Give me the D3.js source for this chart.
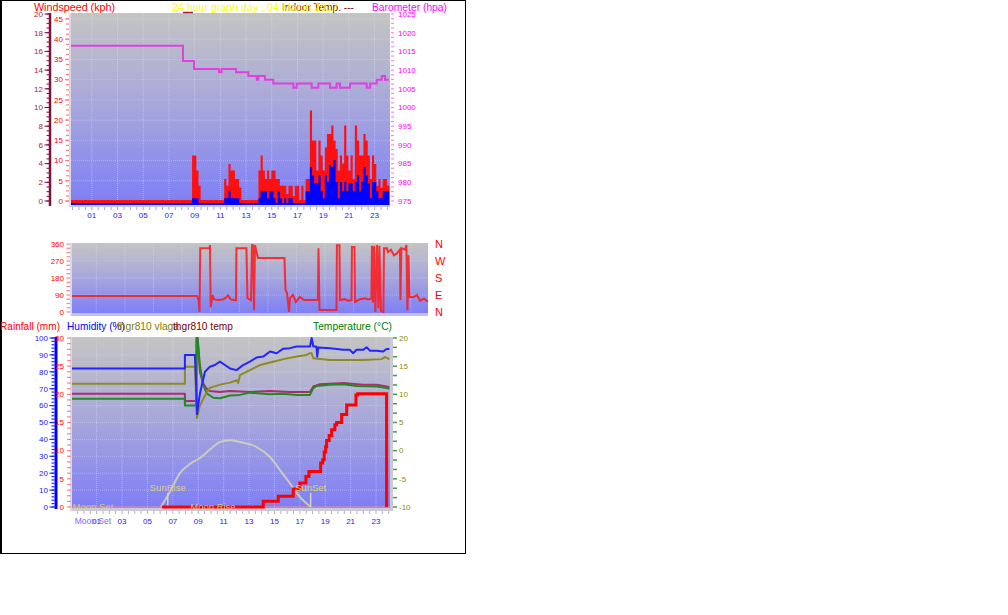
<!DOCTYPE html>
<html><head><meta charset="utf-8">
<script src="https://cdn.jsdelivr.net/npm/d3@7"></script>
<style>body{margin:0;background:#fff}svg{display:block}text{font-family:"Liberation Sans",Arial,sans-serif}</style>
</head><body><svg id="c" width="1008" height="615"></svg>
<script>
// ---------------- DATA ----------------
const hourTickValues = [1,3,5,7,9,11,13,15,17,19,21,23];
const hourTickLabels = ["01","03","05","07","09","11","13","15","17","19","21","23"];

// wind: 10-minute slots starting at windStartHour
const windStartHour = -0.7;
const windStepHours = 1/6;
const gustKph = [
0,0,0,0,0,0,0,0,0,0, 0,0,0,0,0,0,0,0,0,0, 0,0,0,0,0,0,0,0,0,0, 0,0,0,0,0,0,0,0,0,0, 0,0,0,0,0,0,0,0,0,0, 0,0,0,0,0,0,0,
11,11,7.3,3.5,
0,0,0,0,0,0,0,0,0,0,0,
5.2,3.5,8.9,7.3,7.3,5.2,5.2,3.1,
0,0,0,0,0,0,0,0,
7.3,11,7.3,5.2,7.3,5.2,7.3,7.3,5.2,5.2,
3.5,3.5,3.5,1.5,3.5,3.5,1,3.5,3.5,0,
3.5,0,5.2,5.2,22.1,14.7,14.7,7.3,14.7,11,
7.3,13,16.3,16.3,18.4,14.7,12.6,7.3,11,9,
18.4,11,7.3,11,5.2,18.4,14.7,11,11,16.3,
14.7,11,5.2,11,8.9,3.5,5.2,3,5.2,5.2,
3.5];
const windKph = [
0,0,0,0,0,0,0,0,0,0, 0,0,0,0,0,0,0,0,0,0, 0,0,0,0,0,0,0,0,0,0, 0,0,0,0,0,0,0,0,0,0, 0,0,0,0,0,0,0,0,0,0, 0,0,0,0,0,0,0,
1.2,1.2,1.2,0,
0,0,0,0,0,0,0,0,0,0,0,
1.2,1.2,3,1.2,1.2,1.2,1.2,0,
0,0,0,0,0,0,0,0,
1.2,2.9,2.9,2.9,1.2,2.9,2.9,1.2,0,2.9,
1.2,0,1.2,0,1.2,1.2,0,0,0,0,
0,0,2.9,2.9,8.9,6.8,4.8,4.8,6.8,2.9,
1.2,6.8,5.2,9.3,8.9,10.6,5.2,1.2,5.2,2.9,
5.2,2.9,4.8,4.8,2.9,5.2,6.8,2.9,5.2,8.9,
6.8,4.8,1.2,5.2,5.2,2.9,1.2,1.2,2.9,2.9,
2.9];

const baroHours = [-0.62,8.09,8.95,10.89,11.09,12.22,13.18,13.83,13.95,14.47,15.12,16.68,16.94,18.11,18.62,19.53,20.05,20.31,21.09,22.39,22.65,23.17,23.56,23.81,24.12];
const baroHpa   = [1016.5,1012.4,1010.3,1009.4,1010.3,1009.4,1008.4,1007.4,1008.4,1007.4,1006.4,1005.3,1006.4,1005.3,1006.4,1005.3,1006.4,1005.3,1006.4,1005.3,1006.4,1007.4,1008.4,1007.4,1007.4];

const dirHours = [-0.70,8.04,8.15,8.22,8.27,8.92,8.95,9.00,9.13,9.23,9.51,9.86,10.07,10.21,10.42,10.77,10.80,11.50,11.57,11.82,11.89,11.96,12.03,12.10,12.31,14.16,14.23,14.34,14.48,14.55,14.76,14.96,15.24,15.52,16.50,16.54,16.61,17.80,17.83,18.01,18.04,18.39,18.60,18.85,18.88,19.06,19.09,19.44,19.79,20.00,20.24,20.28,20.35,20.42,20.52,20.63,20.73,20.80,20.91,21.08,21.12,21.33,21.40,21.61,21.82,22.03,22.24,22.27,22.34,22.59,22.69,22.76,22.83,22.90,23.22,23.43,23.64,23.92,24.20];
const dirDeg   = [85,85,65,0,337,337,354,25,90,68,63,66,76,88,66,62,338,338,74,62,354,354,10,354,286,286,116,100,0,74,90,53,80,63,63,338,10,10,354,354,63,68,60,63,344,344,53,68,72,66,70,350,50,350,0,354,20,350,5,0,338,338,318,330,300,310,330,63,338,330,354,10,300,80,80,90,60,70,55];
const dirTicks = [0,90,180,270,360];
const dirLetters = ["N","E","S","W","N"];

const humHours = [-0.94,7.95,7.95,8.74,8.82,8.9,9.13,9.53,9.92,10.31,10.71,11.1,11.5,12.02,12.54,13.07,13.6,14.12,14.65,15.17,15.7,16.22,16.75,17.27,17.8,17.93,18.06,18.3,18.37,18.45,19.37,19.9,20.42,20.94,21.2,21.47,21.99,22.26,22.52,23.05,23.57,23.83,24.05];
const humPct   = [82,82,90,90,75,55,67,80,83,84,86,84,82,81,84,86,88.5,89,92,91,93.7,94,95,95,95,100,95,95,89,94.4,94,93.5,93,93,91,93,93,94.5,92.5,92.5,92,93.5,93.5];

const vlagaHours = [-0.94,7.95,7.95,8.74,8.9,9.13,9.53,9.92,10.71,11.5,12.02,12.15,12.28,13.07,13.86,14.9,15.7,16.75,17.53,17.8,17.93,18.06,19.37,21.99,23.44,23.7,24.05];
const vlagaPct   = [73,73,83,83,52.6,60,66,70.5,72.4,73.6,75,73.4,78,81,84,86,87.5,89,90,91,91,88,87,87,87.5,88.7,87.5];

const tempHours = [-0.94,7.95,7.95,8.85,8.87,8.95,9.13,9.39,9.66,10.18,10.71,11.5,12.28,13.07,14.65,15.7,16.75,17.8,18.06,18.32,19.37,20.42,21.47,23.05,23.83,24.05];
const tempC     = [9.2,9.2,8.0,8.0,20,20,15.2,11.7,10.2,9.4,9.3,9.8,9.9,10.3,10.0,10.1,9.9,9.9,11.1,11.5,11.7,11.8,11.5,11.4,11.1,11.0];

const thgrHours = [-0.94,7.95,7.95,8.85,8.87,8.95,9.13,9.37,9.66,9.92,10.71,11.5,13.07,14.65,16.22,17.8,18.06,18.58,20.42,21.99,23.05,23.83,24.05];
const thgrC     = [10.1,10.1,8.8,8.8,20,20,14,12,11,10.6,10.4,10.6,10.4,10.6,10.4,10.4,11.4,11.8,12.0,11.7,11.7,11.4,11.3];

const rainHours = [6.14,14.12,15.3,16.48,17.0,17.48,17.72,18.64,18.8,18.92,19.03,19.11,19.31,19.5,19.76,19.9,20.29,20.69,21.42,21.55,23.83];
const rainMm    = [0,1.0,1.9,3.2,4.25,5.4,6.3,7.8,8.4,9.75,10.7,11.8,12.7,13.7,14.6,15.0,16.4,18.1,19.9,20.1,0];

const sunHours = [6.06,6.77,7.56,8.35,9.13,10.16,10.71,11.5,12.28,13.6,14.65,15.43,16.22,17.0,17.87];
const sunElev  = [0,9,20,25.5,29,35.5,38.5,39.5,38.5,35.5,29.6,22,14,6,0];
const sunEvents  = [["SunRise",6.6],["SunSet",17.85]];
const moonEvents = [["Moon Set",0.71],["Moon Rise",10.16]];

// ---------------- DRAW ----------------
const svg = d3.select("#c");
const defs = svg.append("defs");
const gr = defs.append("linearGradient").attr("id","bg").attr("x1",0).attr("x2",0).attr("y1",0).attr("y2",1);
gr.append("stop").attr("offset","0%").attr("stop-color","#c4c4c4");
gr.append("stop").attr("offset","50%").attr("stop-color","#a6a6dc");
gr.append("stop").attr("offset","100%").attr("stop-color","#7e7ef6");
function clip(id,x,y,w,h){defs.append("clipPath").attr("id",id).append("rect").attr("x",x).attr("y",y).attr("width",w).attr("height",h);}

function hTicks(g, scale, vals, x1, x2, color, w){
  g.selectAll(null).data(vals).enter().append("line")
   .attr("x1",x1).attr("x2",x2).attr("y1",d=>scale(d)).attr("y2",d=>scale(d))
   .attr("stroke",color).attr("stroke-width",w||1);
}
function vLabels(g, scale, vals, x, anchor, color, size){
  g.selectAll(null).data(vals).enter().append("text")
   .attr("x",x).attr("y",d=>scale(d)).attr("dy","0.35em").attr("text-anchor",anchor)
   .attr("fill",color).attr("font-size",size||8).text(d=>d);
}
function txt(x,y,s,color,len){
  const t = svg.append("text").attr("x",x).attr("y",y).attr("fill",color).attr("font-size",11).text(s);
  if (len) t.attr("textLength",len).attr("lengthAdjust","spacingAndGlyphs");
  return t;
}
const range = (a,b,s)=>d3.range(a,b+s/2,s);

// border
svg.append("rect").attr("x",0.5).attr("y",0.5).attr("width",465).attr("height",553).attr("fill","none").attr("stroke","#000");
svg.append("line").attr("x1",1.5).attr("x2",1.5).attr("y1",0).attr("y2",554).attr("stroke","#000");

// ===== TOP PANEL =====
const xTop = d3.scaleLinear().domain([-0.62,24.2]).range([71,390]);
const yGust = d3.scaleLinear().domain([0,45]).range([201,19]);
const yWind20 = d3.scaleLinear().domain([0,20]).range([201,14]);
const yBaro = d3.scaleLinear().domain([975,1025]).range([201,14]);
clip("ctop",71,13,319,193);
const topG = svg.append("g");
topG.append("rect").attr("x",71).attr("y",13).attr("width",319).attr("height",192).attr("fill","url(#bg)");
topG.append("rect").attr("x",69).attr("y",13).attr("width",2).attr("height",194).attr("fill","#d8d8e6");
topG.selectAll(null).data(hourTickValues).enter().append("line")
  .attr("x1",d=>xTop(d)).attr("x2",d=>xTop(d)).attr("y1",13).attr("y2",205)
  .attr("stroke","#e4e4f4").attr("stroke-opacity",0.45).attr("stroke-dasharray","1,1");
topG.selectAll(null).data(range(5,45,5)).enter().append("line")
  .attr("x1",71).attr("x2",390).attr("y1",d=>yGust(d)).attr("y2",d=>yGust(d))
  .attr("stroke","#e4e4f4").attr("stroke-opacity",0.35).attr("stroke-dasharray","1,1");
topG.append("rect").attr("x",71).attr("y",205).attr("width",319).attr("height",2).attr("fill","#c8c8ea");
topG.selectAll(null).data(range(-0.5,24,0.5)).enter().append("line")
  .attr("x1",d=>xTop(d)).attr("x2",d=>xTop(d)).attr("y1",207).attr("y2",210).attr("stroke","#a8a8d4");
topG.selectAll(null).data(hourTickValues).enter().append("text")
  .attr("x",d=>xTop(d)).attr("y",218).attr("text-anchor","middle").attr("fill","#2020ff").attr("font-size",8)
  .text((d,i)=>hourTickLabels[i]);

const windPts = gustKph.map((g,i)=>({h:windStartHour+i*windStepHours, g, w:windKph[i]}));
windPts.push({h:windStartHour+gustKph.length*windStepHours, g:gustKph[gustKph.length-1], w:windKph[windKph.length-1]});
const tp = topG.append("g").attr("clip-path","url(#ctop)");
tp.append("path").datum(windPts).attr("fill","#ff1010")
  .attr("d", d3.area().curve(d3.curveStepAfter).x(d=>xTop(d.h)).y0(yGust(0)+4).y1(d=>yGust(d.g)-1));
tp.append("path").datum(windPts).attr("fill","#0000ff")
  .attr("d", d3.area().curve(d3.curveStepAfter).x(d=>xTop(d.h)).y0(yGust(0)+4).y1(d=>Math.min(yGust(d.w)+2, yGust(0)+2)));
tp.append("path").datum(baroHours.map((h,i)=>[h,baroHpa[i]])).attr("fill","none")
  .attr("stroke","#e040e0").attr("stroke-width",2)
  .attr("d", d3.line().curve(d3.curveStepAfter).x(d=>xTop(d[0])).y(d=>yBaro(d[1])));

topG.append("line").attr("x1",50).attr("x2",50).attr("y1",13).attr("y2",206).attr("stroke","#80103c").attr("stroke-width",2.5);
hTicks(topG, yWind20, range(0,20,0.5), 46.5, 49, "#80103c");
hTicks(topG, yWind20, range(0,20,2), 44.5, 49, "#80103c");
vLabels(topG, yWind20, range(0,20,2), 43, "end", "#b02040", 8);
hTicks(topG, yGust, range(0,45,1.25), 66, 69, "#ff8080", 1.2);
hTicks(topG, yGust, range(0,45,5), 65, 69, "#ff8080", 1.2);
vLabels(topG, yGust, range(0,45,5), 63, "end", "#ff0000", 8);
hTicks(topG, yBaro, range(975,1025,1.25), 391, 394, "#ff80ff", 1.2);
vLabels(topG, yBaro, range(975,1025,5), 398, "start", "#ff00ff", 8);

txt(34,11,"Windspeed (kph)","#ff0000",81);
svg.append("line").attr("x1",183).attr("x2",193).attr("y1",12.5).attr("y2",12.5).attr("stroke","#a0204a").attr("stroke-width",1.5);
txt(282,11,"Indoor Temp. ---","#800000",72);
txt(172,11,"24 hour graph day : 04 March 2017","#ffff00",166);
txt(372,11,"Barometer (hpa)","#ff00ff",75);

// ===== MIDDLE PANEL =====
const xMid = d3.scaleLinear().domain([-0.7,24.2]).range([72,428]);
const yDir = d3.scaleLinear().domain([0,360]).range([312,244]);
clip("cmid",72,241,356,73);
const midG = svg.append("g");
midG.append("rect").attr("x",72).attr("y",243).attr("width",356).attr("height",71).attr("fill","url(#bg)");
midG.append("rect").attr("x",70).attr("y",243).attr("width",2).attr("height",73).attr("fill","#d8d8e6");
midG.append("rect").attr("x",72).attr("y",313).attr("width",356).attr("height",3).attr("fill","#c0c0f0");
midG.selectAll(null).data(hourTickValues).enter().append("line")
  .attr("x1",d=>xMid(d)).attr("x2",d=>xMid(d)).attr("y1",243).attr("y2",313)
  .attr("stroke","#e4e4f4").attr("stroke-opacity",0.4).attr("stroke-dasharray","1,1");
midG.selectAll(null).data([90,180,270]).enter().append("line")
  .attr("x1",72).attr("x2",428).attr("y1",d=>yDir(d)).attr("y2",d=>yDir(d))
  .attr("stroke","#e4e4f4").attr("stroke-opacity",0.4).attr("stroke-dasharray","1,1");
midG.append("g").attr("clip-path","url(#cmid)").append("path")
  .datum(dirHours.map((h,i)=>[h,dirDeg[i]])).attr("fill","none")
  .attr("stroke","#ff1818").attr("stroke-opacity",0.85).attr("stroke-width",2)
  .attr("d", d3.line().x(d=>xMid(d[0])).y(d=>yDir(d[1])));
hTicks(midG, yDir, range(0,360,22.5), 66.5, 70, "#ff8080", 1.2);
vLabels(midG, yDir, dirTicks, 64, "end", "#ff0000", 8);
midG.selectAll(null).data(dirTicks).enter().append("text")
  .attr("x",435).attr("y",d=>yDir(d)).attr("dy","0.38em").attr("fill","#ff0000").attr("font-size",11)
  .text((d,i)=>dirLetters[i]);

// ===== BOTTOM PANEL =====
const xBot = d3.scaleLinear().domain([-0.94,24.1]).range([72,390]);
const yHum = d3.scaleLinear().domain([0,100]).range([507,338]);
const yRain = d3.scaleLinear().domain([0,30]).range([507,338]);
const yTemp = d3.scaleLinear().domain([-10,20]).range([507,338]);
clip("cbot",72,336,318,173);
const botG = svg.append("g");
botG.append("rect").attr("x",72).attr("y",337).attr("width",318).attr("height",171).attr("fill","url(#bg)");
botG.append("rect").attr("x",70).attr("y",337).attr("width",2).attr("height",174).attr("fill","#d8d8e6");
botG.append("rect").attr("x",390).attr("y",337).attr("width",3).attr("height",174).attr("fill","#cacada");
botG.append("rect").attr("x",72).attr("y",508).attr("width",321).attr("height",3).attr("fill","#cacada");
botG.selectAll(null).data(hourTickValues).enter().append("line")
  .attr("x1",d=>xBot(d)).attr("x2",d=>xBot(d)).attr("y1",337).attr("y2",508)
  .attr("stroke","#e4e4f4").attr("stroke-opacity",0.45).attr("stroke-dasharray","1,1");
botG.selectAll(null).data(range(10,90,10)).enter().append("line")
  .attr("x1",72).attr("x2",390).attr("y1",d=>yHum(d)).attr("y2",d=>yHum(d))
  .attr("stroke","#e4e4f4").attr("stroke-opacity",0.4).attr("stroke-dasharray","1,1");
botG.selectAll(null).data(range(-0.5,24,0.5)).enter().append("line")
  .attr("x1",d=>xBot(d)).attr("x2",d=>xBot(d)).attr("y1",511).attr("y2",514).attr("stroke","#b0b0c8");
botG.selectAll(null).data(hourTickValues).enter().append("text")
  .attr("x",d=>xBot(d)).attr("y",524).attr("text-anchor","middle").attr("fill","#2020ff").attr("font-size",8)
  .text((d,i)=>hourTickLabels[i]);

const bp = botG.append("g").attr("clip-path","url(#cbot)");
bp.append("line").attr("x1",72).attr("x2",390).attr("y1",yRain(0)).attr("y2",yRain(0)).attr("stroke","#f09090").attr("stroke-width",1);
bp.append("path").datum(sunHours.map((h,i)=>[h,sunElev[i]])).attr("fill","none")
  .attr("stroke","#d4d4b8").attr("stroke-opacity",0.85).attr("stroke-width",2)
  .attr("d", d3.line().curve(d3.curveMonotoneX).x(d=>xBot(d[0])).y(d=>yHum(d[1])));
bp.selectAll(null).data(sunEvents).enter().append("line")
  .attr("x1",d=>xBot(d[1])).attr("x2",d=>xBot(d[1])).attr("y1",yHum(0)-14).attr("y2",yHum(0))
  .attr("stroke","#d4d4b8").attr("stroke-width",1.5);
function series(hours, vals, scale, color, w){
  bp.append("path").datum(hours.map((h,i)=>[h,vals[i]])).attr("fill","none")
    .attr("stroke",color).attr("stroke-width",w).attr("stroke-linejoin","round")
    .attr("d", d3.line().x(d=>xBot(d[0])).y(d=>scale(d[1])));
}
series(thgrHours, thgrC, yTemp, "#a8306a", 2);
series(tempHours, tempC, yTemp, "#228a22", 2);
series(vlagaHours, vlagaPct, yHum, "#8c8c22", 2);
series(humHours, humPct, yHum, "#2424ff", 2);
bp.append("path").datum(rainHours.map((h,i)=>[h,rainMm[i]])).attr("fill","none")
  .attr("stroke","#ff0000").attr("stroke-width",3)
  .attr("d", d3.line().curve(d3.curveStepAfter).x(d=>xBot(d[0])).y(d=>yRain(d[1])));
botG.selectAll(null).data(sunEvents).enter().append("text")
  .attr("x",d=>xBot(d[1])).attr("y",yHum(0)-16).attr("text-anchor","middle")
  .attr("fill","#d8d080").attr("font-size",9.5).text(d=>d[0]);
botG.selectAll(null).data(moonEvents).enter().append("text")
  .attr("x",d=>xBot(d[1])).attr("y",yHum(0)+3).attr("text-anchor","middle")
  .attr("fill","#d8d080").attr("fill-opacity",0.9).attr("font-size",9.5).text(d=>d[0]);
botG.selectAll(null).data(moonEvents.slice(0,1)).enter().append("text")
  .attr("x",d=>xBot(d[1])).attr("y",524).attr("text-anchor","middle")
  .attr("fill","#7c6cff").attr("font-size",8.5).text(d=>d[0]);

botG.append("line").attr("x1",56).attr("x2",56).attr("y1",337).attr("y2",509).attr("stroke","#0000ff").attr("stroke-width",3);
hTicks(botG, yHum, range(0,100,2), 51.5, 54.5, "#2828ff", 1.2);
hTicks(botG, yHum, range(0,100,10), 49.5, 54.5, "#2828ff", 1.2);
vLabels(botG, yHum, range(0,100,10), 48, "end", "#2020ff", 8);
hTicks(botG, yRain, range(0,30,1), 67, 71, "#ff8080", 1.2);
vLabels(botG, yRain, range(0,30,5), 64, "end", "#ff0000", 8);
hTicks(botG, yTemp, range(-10,20,5/3), 393, 397, "#40a040", 1.5);
vLabels(botG, yTemp, range(-10,20,5), 399, "start", "#8c8c00", 8);

txt(0,330,"Rainfall (mm)","#ff0000",60);
txt(67,330,"Humidity (%)","#0000ff",58);
txt(117,330,"thgr810 vlaga","#808000",62);
txt(173,330,"thgr810 temp","#800000",60);
txt(313,330,"Temperature (°C)","#008000",79);
</script></body></html>
